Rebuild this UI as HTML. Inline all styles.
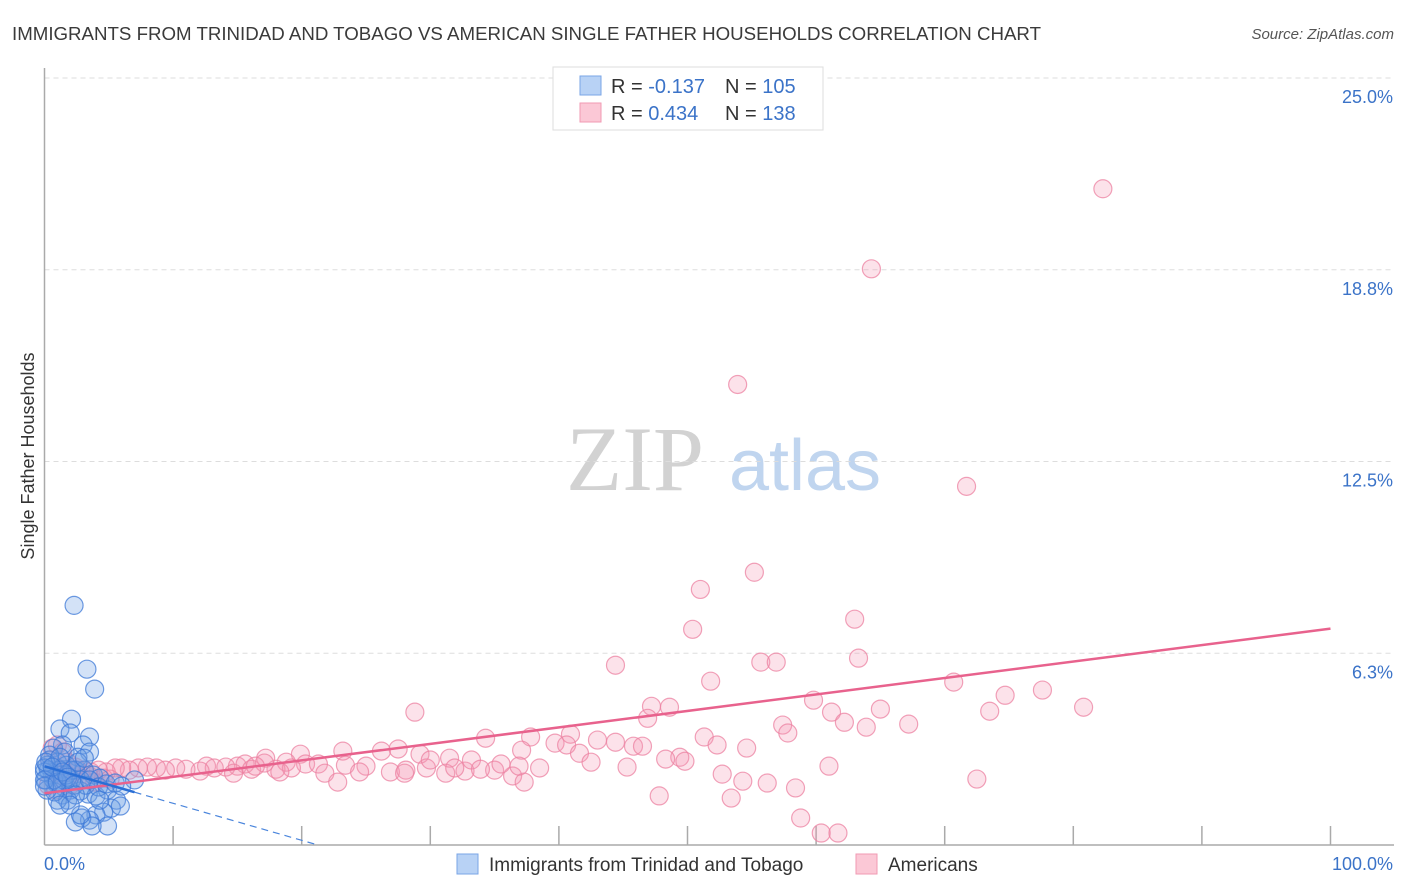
<!DOCTYPE html>
<html><head><meta charset="utf-8"><style>
body{margin:0;background:#fff;font-family:"Liberation Sans",sans-serif}
svg{display:block}
</style></head><body>
<svg id="chart" width="1406" height="892" viewBox="0 0 1406 892">
<text x="12" y="40" font-size="18.7" fill="#3a3a3a">IMMIGRANTS FROM TRINIDAD AND TOBAGO VS AMERICAN SINGLE FATHER HOUSEHOLDS CORRELATION CHART</text>
<text x="1394" y="39" font-size="15" font-style="italic" fill="#555" text-anchor="end">Source: ZipAtlas.com</text>
<text transform="translate(34,456) rotate(-90)" font-size="18" fill="#333" text-anchor="middle">Single Father Households</text>
<g><text x="635" y="490" font-size="92" font-family="Liberation Serif,serif" fill="#d2d2d2" text-anchor="middle">ZIP</text><text x="805" y="490" font-size="72" fill="#c0d5ef" text-anchor="middle">atlas</text></g>
<g id="grid"></g><g id="axes"></g><g id="pts"></g><g id="lines"></g>
<g>
<rect x="553" y="67" width="270" height="63" fill="#fff" stroke="#ddd"/>
<rect x="580" y="76" width="21" height="19" fill="#b8d2f5" stroke="#7aa5e6"/>
<rect x="580" y="103" width="21" height="19" fill="#fbc8d6" stroke="#f09ab3"/>
<text x="611" y="93" font-size="20" fill="#333">R = <tspan fill="#3b73c8">-0.137</tspan></text>
<text x="725" y="93" font-size="20" fill="#333">N = <tspan fill="#3b73c8">105</tspan></text>
<text x="611" y="120" font-size="20" fill="#333">R = <tspan fill="#3b73c8"> 0.434</tspan></text>
<text x="725" y="120" font-size="20" fill="#333">N = <tspan fill="#3b73c8"> 138</tspan></text>
</g>
<g>
<rect x="457" y="854" width="21" height="20" fill="#b8d2f5" stroke="#7aa5e6"/>
<text x="489" y="871" font-size="19" fill="#333">Immigrants from Trinidad and Tobago</text>
<rect x="856" y="854" width="21" height="20" fill="#fbc8d6" stroke="#f09ab3"/>
<text x="888" y="871" font-size="19" fill="#333">Americans</text>
</g>
</svg>
<script>
const yTicks=[6.25,12.5,18.75,25];
const yTickLabels=["6.3%","12.5%","18.8%","25.0%"];
const xTickValues=[0,10,20,30,40,50,60,70,80,90,100];
const blueX=[2.3,3.3,3.9,2.1,1.2,2.0,3.5,1.4,3.0,0.7,1.6,3.5,2.6,0.4,1.0,1.7,2.4,3.1,3.8,4.3,0.3,0.6,0.1,0.9,1.4,2.0,2.8,3.4,4.0,4.9,5.6,5.2,5.9,4.6,4.0,3.5,2.9,2.4,4.9,3.7,2.8,1.4,1.8,1.0,0.8,0.2,0.2,0.4,1.2,2.1,2.8,3.2,7.0,1.5,0.7,0.0,0.0,0.1,0.0,0.0,1.0,1.7,2.1,2.6,3.1,1.2,0.6,1.4,1.8,2.3,3.5,4.2,2.4,2.0,1.2,4.3,4.8,5.5,6.0];
const blueY=[7.81,5.73,5.08,4.10,3.78,3.65,3.52,3.26,3.26,3.16,3.03,3.03,2.86,2.77,2.70,2.60,2.44,2.44,2.28,2.18,2.44,2.28,2.12,2.02,1.92,1.79,1.76,1.66,1.60,1.79,1.46,1.20,1.27,1.07,0.98,0.81,0.88,0.75,0.62,0.62,0.98,1.63,1.46,1.46,1.73,1.79,2.60,2.93,2.44,2.12,2.12,1.95,2.12,2.12,2.12,2.38,2.51,2.70,2.12,1.92,2.05,2.28,2.44,2.70,2.83,2.86,2.54,2.38,2.21,1.95,2.12,1.89,1.63,1.30,1.30,1.46,1.99,2.02,1.92];
const pinkX=[82.3,64.3,53.9,71.7,55.2,51.0,50.4,63.0,63.3,44.4,55.7,56.9,51.8,70.7,77.6,74.7,59.8,73.5,80.8,65.0,47.2,48.6,28.8,61.2,46.9,62.2,57.4,57.8,67.2,63.9,51.3,34.3,40.9,37.8,39.7,43.0,44.4,40.6,45.8,46.5,54.6,52.3,37.1,41.6,42.5,45.3,49.4,49.8,48.3,61.0,52.7,54.3,56.2,72.5,58.4,53.4,47.8,58.8,60.4,61.7,36.4,37.3,38.5,35.0,32.7,26.2,27.5,23.2,29.2,29.7,31.5,33.2,30.0,23.4,25.0,26.9,28.1,19.9,20.3,17.2,18.8,21.3,21.8,22.8,24.5,28.0,15.0,15.6,16.1,18.0,19.2,12.6,13.2,14.1,14.7,12.1,11.0,10.2,9.4,8.7,8.0,7.3,6.6,6.0,5.5,4.8,4.2,3.6,3.1,2.6,2.1,1.6,1.2,0.8,0.4,0.6,1.0,1.4,1.8,2.4,2.9,3.4,3.9,4.6,5.1,0.3,0.9,2.0,17.1,16.4,18.3,31.2,31.9,33.9,35.5,36.9];
const pinkY=[21.39,18.78,15.01,11.69,8.89,8.33,7.03,7.36,6.09,5.86,5.96,5.96,5.34,5.31,5.05,4.88,4.72,4.36,4.49,4.43,4.52,4.49,4.33,4.33,4.13,4.00,3.91,3.65,3.94,3.84,3.52,3.48,3.61,3.52,3.32,3.42,3.35,3.26,3.22,3.22,3.16,3.26,3.09,2.99,2.70,2.54,2.86,2.73,2.80,2.57,2.31,2.08,2.02,2.15,1.86,1.53,1.60,0.88,0.39,0.39,2.25,2.05,2.51,2.44,2.41,3.06,3.13,3.06,2.96,2.51,2.83,2.77,2.77,2.60,2.57,2.38,2.44,2.96,2.64,2.83,2.70,2.64,2.34,2.05,2.38,2.34,2.57,2.64,2.47,2.47,2.51,2.57,2.51,2.54,2.34,2.41,2.47,2.51,2.44,2.51,2.54,2.51,2.44,2.51,2.51,2.38,2.44,2.38,2.44,2.44,2.34,2.34,2.28,2.44,2.77,3.16,3.26,3.03,2.70,2.54,2.18,2.28,2.05,2.18,2.15,1.95,1.79,1.95,2.67,2.57,2.38,2.34,2.51,2.47,2.64,2.57];
const X0=44.5,X1=1330.5,Y0=845,Y1=78;
const sx=v=>X0+(X1-X0)*v/100, sy=v=>Y0-(Y0-Y1)*v/25;
const NS="http://www.w3.org/2000/svg";
function mk(tag,attrs,parent){const e=document.createElementNS(NS,tag);for(const k in attrs)e.setAttribute(k,attrs[k]);document.getElementById(parent).appendChild(e);return e;}
yTicks.forEach((t,i)=>{
 const g=mk('line',{x1:X0,x2:1394,y1:sy(t),y2:sy(t),stroke:'#ddd','stroke-dasharray':'5,4'},'grid');
 
 
 const l=mk('text',{x:1393,y:sy(t)+25,'font-size':18,fill:'#3b73c8','text-anchor':'end'},'axes');
 l.textContent=yTickLabels[i];
 
 
});
let a=mk('line',{x1:X0,x2:X0,y1:68,y2:Y0,stroke:'#aaa','stroke-width':1.5},'axes');


a=mk('line',{x1:X0,x2:1394,y1:Y0,y2:Y0,stroke:'#aaa','stroke-width':1.5},'axes');


xTickValues.forEach(v=>{if(v===0)return;const t=mk('line',{x1:sx(v),x2:sx(v),y1:Y0-19,y2:Y0,stroke:'#aaa','stroke-width':1.5},'axes');
 
 });
let xl=mk('text',{x:44,y:870,'font-size':18,fill:'#3b73c8'},'axes');xl.textContent='0.0%';


xl=mk('text',{x:1393,y:870,'font-size':18,fill:'#3b73c8','text-anchor':'end'},'axes');xl.textContent='100.0%';


function pts(xs,ys,fill,stroke,name){xs.forEach((x,i)=>{const c=mk('circle',{cx:sx(x),cy:sy(ys[i]),r:9,fill:fill,stroke:stroke,'stroke-width':1.2},'pts');
 
 });}
pts(pinkX,pinkY,'rgba(244,150,178,0.28)','rgba(236,130,162,0.75)','americans-point');
pts(blueX,blueY,'rgba(110,160,230,0.3)','rgba(60,120,215,0.75)','trinidad-point');
function fit(xs,ys){const n=xs.length;let mx=0,my=0;xs.forEach((x,i)=>{mx+=x;my+=ys[i]});mx/=n;my/=n;let sxy=0,sxx=0;xs.forEach((x,i)=>{sxy+=(x-mx)*(ys[i]-my);sxx+=(x-mx)**2});const b=sxy/sxx;return [my-b*mx,b];}
const pf=fit(pinkX,pinkY);
let ln=mk('line',{x1:sx(0),y1:sy(pf[0]),x2:sx(100),y2:sy(pf[0]+pf[1]*100),stroke:'#e8628d','stroke-width':2.5},'lines');


const bf=fit(blueX,blueY);
const xmax=Math.max(...blueX);
ln=mk('line',{x1:sx(0),y1:sy(bf[0]),x2:sx(xmax),y2:sy(bf[0]+bf[1]*xmax),stroke:'#2a6fd6','stroke-width':2.5},'lines');


const xz=bf[1]<0?Math.min(100,-bf[0]/bf[1]):100;
ln=mk('line',{x1:sx(xmax),y1:sy(bf[0]+bf[1]*xmax),x2:sx(xz),y2:sy(bf[0]+bf[1]*xz),stroke:'#4a85dc','stroke-width':1.2,'stroke-dasharray':'7,5'},'lines');


</script>
</body></html>
